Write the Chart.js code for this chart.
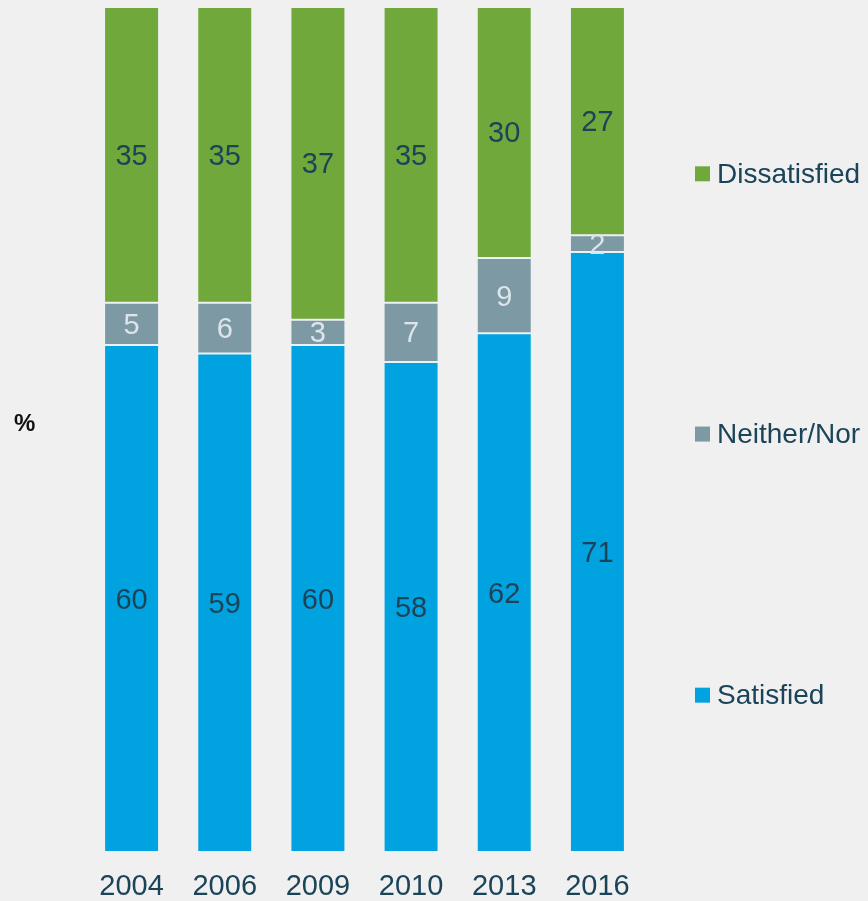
<!DOCTYPE html>
<html>
<head>
<meta charset="utf-8">
<script src="https://cdn.jsdelivr.net/npm/chart.js@4"></script>
<style>
  html, body { margin: 0; padding: 0; background: #f0f0f1; }
  #wrap { position: relative; width: 868px; height: 901px; }
</style>
</head>
<body>
<div id="wrap"><canvas id="chart" width="868" height="901"></canvas></div>
<script>
// Survey results by year (percent of respondents)
const years = ['2004', '2006', '2009', '2010', '2013', '2016'];
const satisfied = [60, 59, 60, 58, 62, 71];
const neitherNor = [5, 6, 3, 7, 9, 2];
const dissatisfied = [35, 35, 37, 35, 30, 27];

const seriesNames = ['Satisfied', 'Neither/Nor', 'Dissatisfied'];
const seriesColors = ['#00a3e0', '#7d99a4', '#70a83c'];
const labelColors = ['#1b4459', '#dde5ea', '#1b4459'];
const FONT = '"Liberation Sans", Arial, sans-serif';

// 100% stacked: each column is scaled to its own total
const totals = years.map((_, i) => satisfied[i] + neitherNor[i] + dissatisfied[i]);
const share = arr => arr.map((v, i) => v / totals[i] * 100);
const raw = [satisfied, neitherNor, dissatisfied];

const datasets = raw.map((arr, k) => ({
  label: seriesNames[k],
  data: share(arr),
  backgroundColor: seriesColors[k],
  borderColor: 'rgba(235,242,245,0.75)',
  borderWidth: 1,
  borderSkipped: false,
  barPercentage: 0.59,
  categoryPercentage: 1.0
}));

// Value labels in the middle of each segment
const valueLabels = {
  id: 'valueLabels',
  afterDatasetsDraw(chart) {
    const ctx = chart.ctx;
    ctx.save();
    ctx.font = '29px ' + FONT;
    ctx.textAlign = 'center';
    ctx.textBaseline = 'middle';
    chart.data.datasets.forEach((ds, k) => {
      const meta = chart.getDatasetMeta(k);
      meta.data.forEach((bar, i) => {
        const yMid = (bar.y + bar.base) / 2;
        ctx.fillStyle = labelColors[k];
        ctx.fillText(String(raw[k][i]), bar.x, yMid + 2);
      });
    });
    ctx.restore();
  }
};

// Legend spread down the right side, plus the "%" axis marker
const sideLegend = {
  id: 'sideLegend',
  afterDraw(chart) {
    const ctx = chart.ctx;
    const area = chart.chartArea;
    const h = area.bottom - area.top;
    const slots = [0.815, 0.506, 0.198]; // Satisfied, Neither/Nor, Dissatisfied
    ctx.save();
    ctx.textBaseline = 'middle';
    ctx.textAlign = 'left';
    ctx.font = '28px ' + FONT;
    seriesNames.forEach((name, k) => {
      const y = area.top + h * slots[k];
      ctx.fillStyle = seriesColors[k];
      ctx.fillRect(695, y - 8, 15, 15);
      ctx.fillStyle = '#1b4459';
      ctx.fillText(name, 717, y + 1);
    });
    ctx.font = 'bold 24px ' + FONT;
    ctx.fillStyle = '#111111';
    ctx.fillText('%', 14, area.top + h * 0.494);
    ctx.restore();
  }
};

new Chart(document.getElementById('chart'), {
  type: 'bar',
  data: { labels: years, datasets },
  options: {
    responsive: false,
    animation: false,
    layout: { padding: { left: 85, right: 224, top: 7, bottom: 0 } },
    plugins: {
      legend: { display: false },
      tooltip: { enabled: false }
    },
    scales: {
      x: {
        stacked: true,
        grid: { display: false, drawTicks: false },
        border: { display: false },
        afterFit(scale) { scale.height = 49; },
        ticks: {
          padding: 20,
          color: '#1b4459',
          font: { family: FONT, size: 29, lineHeight: 1 }
        }
      },
      y: {
        stacked: true,
        display: false,
        min: 0,
        max: 100
      }
    }
  },
  plugins: [valueLabels, sideLegend]
});
</script>
</body>
</html>
